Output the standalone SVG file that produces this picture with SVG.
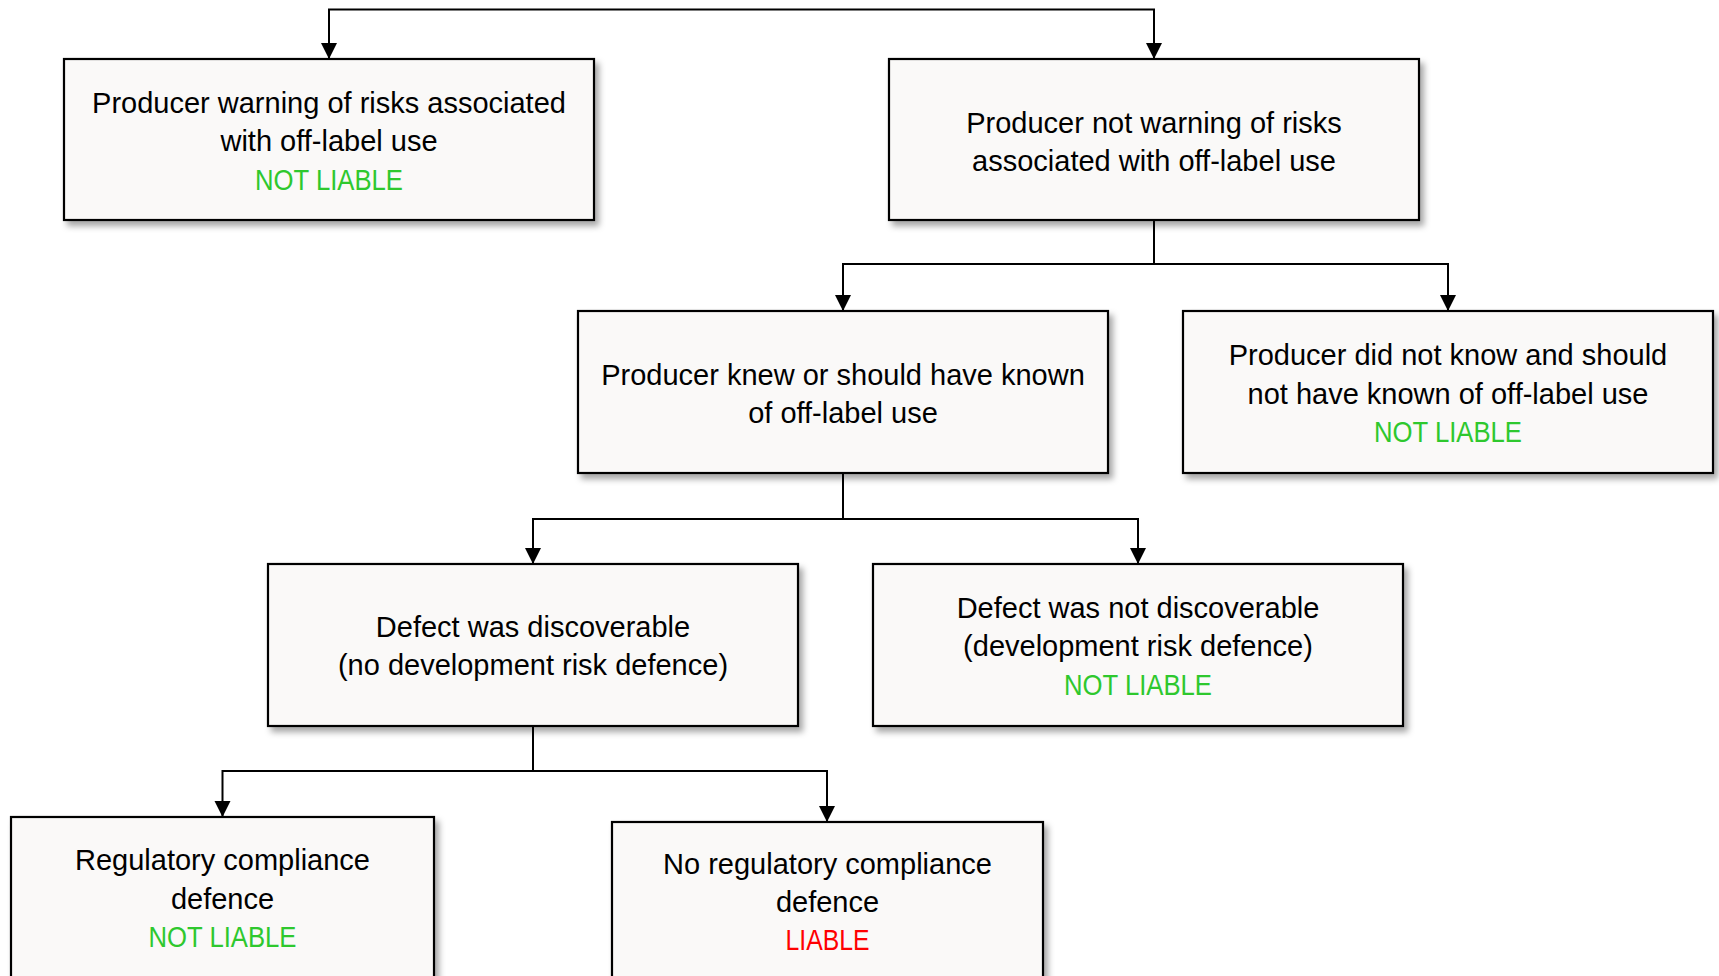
<svg xmlns="http://www.w3.org/2000/svg" width="1719" height="976" viewBox="0 0 1719 976">
<style>
.box{fill:#faf9f8;stroke:#000;stroke-width:2.2;filter:url(#sh)}
.t{font-family:"Liberation Sans",Arial,sans-serif;font-size:29px;fill:#000;text-anchor:middle}
.g{fill:#2ec82e}
.r{fill:#ff0000}
.c{fill:none;stroke:#000;stroke-width:2;marker-end:url(#ah)}
</style>
<defs>
<filter id="sh" x="-5%" y="-5%" width="115%" height="120%">
<feDropShadow dx="4" dy="5" stdDeviation="3" flood-color="#000" flood-opacity="0.35"/>
</filter>
<marker id="ah" markerUnits="userSpaceOnUse" markerWidth="18" markerHeight="18" refX="16" refY="8" orient="auto">
<path d="M0,0 L16,8 L0,16 Z" fill="#000"/>
</marker>
</defs>
<rect width="1719" height="976" fill="#fff"/>
<g id="connectors">
<path class="c" d="M329,59 V9.5 H1154 V59"/>
<path class="c" d="M329,9.5 V59"/>
<path class="c" d="M1154,220 V264 H843 V311"/>
<path class="c" d="M1154,264 H1448 V311"/>
<path class="c" d="M843,473 V519 H533 V564"/>
<path class="c" d="M843,519 H1138 V564"/>
<path class="c" d="M533,726 V771 H222.5 V817"/>
<path class="c" d="M533,771 H827 V822"/>
</g>
<g id="n1">
<rect class="box" x="64" y="59" width="530" height="161"/>
<text class="t" x="329" y="113">Producer warning of risks associated</text>
<text class="t" x="329" y="151">with off-label use</text>
<text class="t g" x="329" y="190" textLength="148" lengthAdjust="spacingAndGlyphs">NOT LIABLE</text>
</g>
<g id="n2">
<rect class="box" x="889" y="59" width="530" height="161"/>
<text class="t" x="1154" y="133">Producer not warning of risks</text>
<text class="t" x="1154" y="171">associated with off-label use</text>
</g>
<g id="n3">
<rect class="box" x="578" y="311" width="530" height="162"/>
<text class="t" x="843" y="385">Producer knew or should have known</text>
<text class="t" x="843" y="423">of off-label use</text>
</g>
<g id="n4">
<rect class="box" x="1183" y="311" width="530" height="162"/>
<text class="t" x="1448" y="365">Producer did not know and should</text>
<text class="t" x="1448" y="404">not have known of off-label use</text>
<text class="t g" x="1448" y="442" textLength="148" lengthAdjust="spacingAndGlyphs">NOT LIABLE</text>
</g>
<g id="n5">
<rect class="box" x="268" y="564" width="530" height="162"/>
<text class="t" x="533" y="637">Defect was discoverable</text>
<text class="t" x="533" y="675">(no development risk defence)</text>
</g>
<g id="n6">
<rect class="box" x="873" y="564" width="530" height="162"/>
<text class="t" x="1138" y="618">Defect was not discoverable</text>
<text class="t" x="1138" y="656">(development risk defence)</text>
<text class="t g" x="1138" y="695" textLength="148" lengthAdjust="spacingAndGlyphs">NOT LIABLE</text>
</g>
<g id="n7">
<rect class="box" x="11" y="817" width="423" height="180"/>
<text class="t" x="222.5" y="870">Regulatory compliance</text>
<text class="t" x="222.5" y="909">defence</text>
<text class="t g" x="222.5" y="947" textLength="148" lengthAdjust="spacingAndGlyphs">NOT LIABLE</text>
</g>
<g id="n8">
<rect class="box" x="612" y="822" width="431" height="180"/>
<text class="t" x="827.5" y="874">No regulatory compliance</text>
<text class="t" x="827.5" y="912">defence</text>
<text class="t r" x="827.5" y="950" textLength="84" lengthAdjust="spacingAndGlyphs">LIABLE</text>
</g>
</svg>
